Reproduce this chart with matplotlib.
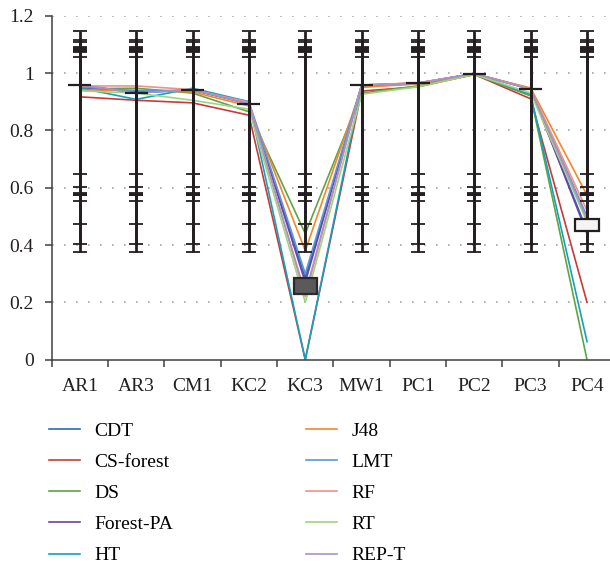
import matplotlib
matplotlib.use("Agg")
import matplotlib.pyplot as plt
import numpy as np

# data sets on the x axis
datasets = ["AR1", "AR3", "CM1", "KC2", "KC3", "MW1", "PC1", "PC2", "PC3", "PC4"]

# values per classifier
cdt       = [0.959, 0.930, 0.942, 0.892, 0.286, 0.957, 0.964, 0.998, 0.943, 0.450]
cs_forest = [0.917, 0.905, 0.896, 0.853, 0.000, 0.937, 0.952, 0.995, 0.910, 0.200]
ds        = [0.945, 0.947, 0.930, 0.865, 0.440, 0.930, 0.955, 0.995, 0.920, 0.000]
forest_pa = [0.950, 0.935, 0.940, 0.895, 0.270, 0.958, 0.965, 0.998, 0.945, 0.440]
ht        = [0.948, 0.908, 0.947, 0.900, 0.000, 0.955, 0.962, 0.998, 0.925, 0.063]
j48       = [0.940, 0.940, 0.934, 0.885, 0.380, 0.950, 0.962, 0.997, 0.948, 0.574]
lmt       = [0.952, 0.938, 0.940, 0.900, 0.300, 0.958, 0.965, 0.998, 0.945, 0.500]
rf        = [0.955, 0.955, 0.942, 0.897, 0.220, 0.958, 0.966, 0.998, 0.945, 0.520]
rt        = [0.938, 0.930, 0.905, 0.874, 0.200, 0.926, 0.952, 0.995, 0.930, 0.480]
rep_t     = [0.959, 0.930, 0.942, 0.892, 0.230, 0.957, 0.964, 0.998, 0.943, 0.490]

names = ["CDT", "CS-forest", "DS", "Forest-PA", "HT", "J48", "LMT", "RF", "RT", "REP-T"]
series = [cdt, cs_forest, ds, forest_pa, ht, j48, lmt, rf, rt, rep_t]
colors = ["#2a6db3", "#c93a36", "#5fa443", "#6a45a3", "#14a0c0",
          "#f5862a", "#5d97d4", "#f29088", "#9fd482", "#a792c6"]

plt.rcParams['font.family'] = ['Liberation Serif', 'DejaVu Serif']
dark = "#231f20"

fig = plt.figure(figsize=(6.10, 5.67), dpi=100)
ax = fig.add_axes([51.7 / 610, 207.3 / 567, 563.5 / 610, 344 / 567])

x = np.arange(len(datasets))

# grid
for g in np.arange(0.2, 1.21, 0.2):
    ax.axhline(g, color="#a5a5a5", lw=1.2, linestyle=(0, (1, 6.2)), zorder=1)

# classifier lines
for vals, name, c in zip(series, names, colors):
    ax.plot(x, vals, color=c, lw=1.2, label=name, zorder=2)

# standard deviation error bars (centred on series mean, excel style)
for vals in series:
    v = np.array(vals)
    m = v.mean()
    s = v.std(ddof=1)
    ax.errorbar(x, np.full(len(x), m), yerr=s, fmt='none', ecolor=dark,
                elinewidth=2.0, capsize=5, capthick=1.3, zorder=3)

# up/down bars between first and last series
op = np.array(series[0])
cl = np.array(series[-1])
up = cl >= op
ax.bar(x[up], (cl - op)[up], bottom=op[up], width=0.41, color="#f4f4f4",
       edgecolor=dark, lw=1.6, zorder=4)
ax.bar(x[~up], (op - cl)[~up], bottom=cl[~up], width=0.41, color="#5a5a5a",
       edgecolor="#2a2a2a", lw=1.6, zorder=4)

ax.set_xlim(-0.5, len(datasets) - 0.5)
ax.set_ylim(0, 1.2)
ax.set_yticks(np.arange(0, 1.21, 0.2))
ax.set_yticklabels(["0", "0.2", "0.4", "0.6", "0.8", "1", "1.2"])
ax.set_xticks(x)
ax.set_xticklabels(datasets)
ax.set_xticks(np.arange(-0.5, len(datasets)), minor=True)
ax.tick_params(axis='x', which='major', length=0, pad=13, labelsize=14, labelcolor=dark)
ax.tick_params(axis='x', which='minor', length=5, width=1.1, color="#404040", direction='out')
ax.tick_params(axis='y', length=5, width=1.1, color="#404040", pad=8, labelsize=14, labelcolor=dark)

for sp in ["top", "right"]:
    ax.spines[sp].set_visible(False)
for sp in ["left", "bottom"]:
    ax.spines[sp].set_color("#404040")
    ax.spines[sp].set_linewidth(1.1)

fig.legend(loc='upper left', bbox_to_anchor=(49 / 610, 1 - 422 / 567), ncol=2,
           frameon=False, fontsize=14, handlelength=1.6, handletextpad=0.75,
           labelspacing=0.7, columnspacing=6.8, borderpad=0, borderaxespad=0)

fig.savefig("out.png", dpi=100)
